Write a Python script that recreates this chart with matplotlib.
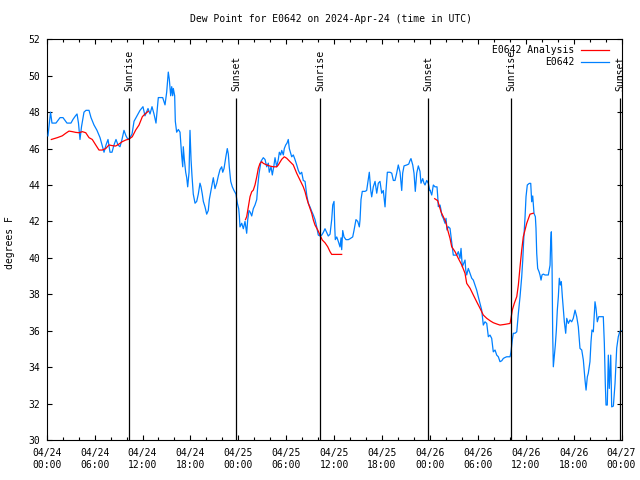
import matplotlib
matplotlib.use("Agg")
import matplotlib.pyplot as plt
from matplotlib.ticker import MultipleLocator

plt.rcParams['font.family'] = ['DejaVu Sans Mono']

# ---- data (hours since 2024-04-24 00:00 UTC, dew point in deg F) ----
obs_hours = [
    0.16, 0.48, 0.66, 1.16, 1.67, 2.04, 2.54, 3.04, 3.29, 3.61, 3.80, 3.98, 4.17, 4.36, 4.67, 4.92,
    5.30, 5.55, 5.92, 6.30, 6.68, 6.93, 7.18, 7.43, 7.68, 7.93, 8.18, 8.43, 8.68, 8.93, 9.18, 9.43,
    9.68, 9.93, 10.18, 10.43, 10.69, 10.94, 11.19, 11.44, 11.69, 12.06,
    12.31, 12.69, 12.94, 13.19, 13.44, 13.69, 13.98, 14.53, 14.82, 15.03, 15.23, 15.36, 15.53, 15.66,
    15.78, 15.86, 16.03, 16.11, 16.28, 16.49, 16.70, 16.91, 17.04, 17.11, 17.24, 17.41, 17.54, 17.66,
    17.83, 17.95, 18.08, 18.20, 18.36, 18.58, 18.79, 18.99, 19.20, 19.33, 19.49, 19.62, 19.83, 20.04,
    20.24, 20.37, 20.54, 20.71, 20.87, 21.08, 21.30, 21.50, 21.71, 21.92, 22.05, 22.21, 22.46, 22.62,
    22.75, 22.87, 23.05, 23.25, 23.46, 23.71, 23.88, 24.05, 24.13,
    24.21, 24.43, 24.63, 24.84, 25.05, 25.18, 25.34, 25.50, 25.68, 25.88, 26.09, 26.31, 26.43, 26.59,
    26.84, 27.13, 27.35, 27.56, 27.76, 27.88, 28.10, 28.26, 28.44, 28.60, 28.81, 29.01, 29.14, 29.31,
    29.44, 29.64, 29.76, 29.94, 30.10, 30.26, 30.39, 30.56, 30.69, 30.89, 31.10, 31.32, 31.52, 31.73,
    31.94, 32.14, 32.36, 32.57, 32.77, 32.98, 33.20, 33.40, 33.61, 33.82, 34.02, 34.24, 34.45, 34.65,
    34.86, 35.07, 35.27, 35.49, 35.70, 35.83, 35.99, 36.08,
    36.15, 36.33, 36.53, 36.74, 36.87, 36.95, 37.08, 37.24, 37.49, 37.78, 37.99, 38.33, 38.49, 38.74,
    38.96, 39.16, 39.25, 39.37, 39.53, 39.87, 40.08, 40.29, 40.41, 40.59, 40.71, 40.91, 41.13, 41.34,
    41.54, 41.75, 41.96, 42.16, 42.38, 42.50, 42.67, 43.00, 43.22, 43.42, 43.63, 43.84, 44.04, 44.26,
    44.47, 44.59, 44.76, 45.10, 45.35, 45.51, 45.63, 45.85, 46.01, 46.17, 46.35, 46.55, 46.76, 46.88,
    47.10, 47.26, 47.39, 47.60, 47.80, 47.98,
    48.01, 48.23, 48.43, 48.64, 48.89, 48.98, 49.05, 49.27, 49.39, 49.48, 49.68, 49.89, 50.02, 50.14,
    50.31, 50.52, 50.73, 50.93, 51.15, 51.36, 51.56, 51.77, 51.90, 52.06, 52.24, 52.40, 52.49, 52.61,
    52.81, 53.03, 53.24, 53.44, 53.65, 53.86, 54.06, 54.28, 54.49, 54.69, 54.90, 55.12, 55.32, 55.53,
    55.74, 55.94, 56.16, 56.37, 56.57, 56.78, 57.00, 57.20, 57.41, 57.62, 57.82, 58.04, 58.16, 58.32,
    58.45, 58.66, 58.88, 59.08, 59.29, 59.50, 59.63, 59.75, 59.88,
    59.92, 60.04, 60.20, 60.45, 60.63, 60.75, 60.88, 61.04, 61.21, 61.29, 61.38, 61.50, 61.67, 61.79,
    61.92, 62.04, 62.21, 62.42, 62.63, 62.83, 63.05, 63.13, 63.21, 63.30, 63.38, 63.46, 63.58, 63.71,
    63.84, 63.96, 64.09, 64.21, 64.34, 64.46, 64.59, 64.71, 64.84, 65.01, 65.14, 65.34, 65.55, 65.76,
    65.96, 66.18, 66.39, 66.59, 66.80, 67.02, 67.22, 67.43, 67.56, 67.72, 67.84, 68.05, 68.18, 68.30,
    68.47, 68.68, 68.81, 68.97, 69.15, 69.31, 69.52, 69.72, 69.85, 69.97, 70.06, 70.22, 70.35, 70.47,
    70.65, 70.77, 70.98, 71.19, 71.40, 71.60, 71.77, 71.95,
]
obs_dewpt = [
    46.7, 48.0, 47.4, 47.4, 47.7, 47.7, 47.4, 47.4, 47.6, 47.8, 47.9, 47.4, 46.5, 47.2, 48.0, 48.1,
    48.1, 47.7, 47.3, 47.0, 46.6, 46.2, 45.8, 46.2, 46.5, 45.8, 45.8, 46.2, 46.5, 46.2, 46.1, 46.5,
    47.0, 46.7, 46.5, 46.6, 46.8, 47.5, 47.7, 47.9, 48.1, 48.3,
    47.8, 48.2, 47.9, 48.3, 47.9, 47.4, 48.8, 48.8, 48.4, 49.1, 50.2, 49.8, 48.9, 49.4,
    48.9, 49.3, 48.9, 47.5, 46.9, 47.05, 46.9, 45.6, 45.0, 46.1, 45.4, 44.7, 44.4, 43.9,
    44.7, 47.0, 45.4, 44.5, 43.5, 43.0, 43.1, 43.5, 44.1, 43.9, 43.5, 43.1, 42.8, 42.4,
    42.6, 43.2, 43.6, 44.0, 44.4, 43.8, 44.1, 44.5, 44.85, 45.0, 44.7, 44.9, 45.6, 46.0,
    45.7, 45.0, 44.2, 43.9, 43.7, 43.5, 43.0, 42.7, 42.3,
    41.7, 41.9, 41.6, 42.0, 41.35, 42.1, 42.6, 42.5, 42.3, 42.7, 42.9, 43.2, 43.9, 44.6,
    45.3, 45.5, 45.4, 45.0, 45.2, 44.7, 45.0, 44.55, 45.0, 45.5, 45.0, 45.4, 45.8, 45.65,
    45.9, 45.65, 46.0, 46.2, 46.3, 46.5, 46.0, 45.75, 45.55, 45.65, 45.4, 45.1, 44.8, 44.6,
    44.7, 44.25, 44.2, 43.45, 43.0, 42.8, 42.55, 42.35, 42.1, 41.7, 41.25, 41.2, 41.25, 41.4,
    41.6, 41.4, 41.2, 41.3, 42.1, 42.9, 43.1, 41.7,
    41.0, 41.15, 40.9, 40.6, 41.1, 40.45, 41.5, 41.15, 41.0, 41.0, 41.05, 41.15, 41.5, 42.1,
    42.0, 41.7, 42.1, 43.2, 43.65, 43.65, 43.7, 44.35, 44.7, 43.7, 43.35, 43.9, 44.2, 43.55,
    44.1, 44.2, 43.55, 43.7, 42.8, 43.7, 44.7, 44.7, 44.65, 44.25, 44.25, 44.65, 45.1, 44.7,
    43.7, 44.65, 45.05, 45.1, 45.15, 45.35, 45.45, 45.1, 44.65, 43.65, 44.65, 45.05, 44.75, 44.1,
    44.35, 44.1, 44.0, 44.25, 44.1, 43.7,
    43.72, 43.45, 44.0, 43.9, 43.9, 43.36, 42.81, 42.9, 42.63, 42.35, 42.17, 41.9, 42.17, 41.53,
    41.71, 41.62, 40.89, 40.15, 40.15, 40.15, 40.34, 39.97, 40.52, 39.51, 39.7, 39.88, 39.33, 39.06,
    39.42, 39.15, 38.88, 38.78, 38.51, 38.23, 37.87, 37.5, 37.13, 36.31, 36.49, 36.4, 35.67, 35.76,
    35.58, 34.84, 34.94, 34.66, 34.57, 34.3, 34.35, 34.48, 34.53, 34.57, 34.57, 34.57, 34.84, 35.49,
    35.86, 35.86, 35.94, 36.95, 37.87, 38.96, 39.88, 40.98, 41.9,
    42.26, 43.36, 44.0, 44.09, 44.09, 43.08, 43.4, 42.44, 42.26, 41.62, 40.25, 39.42, 39.24, 39.06,
    38.78, 39.06, 39.11, 39.06, 39.06, 39.06, 39.6, 40.89, 41.43, 39.6, 35.86, 34.02, 34.57, 35.21,
    36.04, 37.13, 37.87, 38.88, 38.51, 38.69, 37.87, 37.23, 36.49, 35.86, 36.68, 36.4, 36.59, 36.49,
    36.68, 37.13, 36.77, 36.22, 35.03, 34.94, 34.39, 33.29, 32.74, 33.47, 33.66, 34.3, 35.39, 36.04,
    35.94, 37.59, 37.23, 36.49, 36.77, 36.77, 36.77, 36.77, 35.31, 33.11, 31.92, 31.92, 34.66, 32.83,
    34.66, 31.82, 31.86, 33.11, 35.05, 35.67, 35.94, 36.0,
]

nan = float('nan')
analysis_hours = [
    0.58, 1.33, 1.95, 2.38, 2.79, 3.21, 3.63, 4.05, 4.46, 4.89, 5.30, 5.71, 6.14, 6.55, 6.96, 7.39,
    7.80, 8.22, 8.64, 9.06, 9.47, 9.90, 10.31, 10.72, 10.94, 11.15, 11.56, 11.98, 12.31, 12.73,
    12.80,
    24.90, 25.05, 25.26, 25.47, 25.68, 25.88, 26.09, 26.31, 26.51, 26.72, 26.93, 27.13, 27.56, 27.97,
    28.39, 28.81, 29.01, 29.44, 29.76, 30.06, 30.48, 30.89, 31.32, 31.73, 32.14, 32.36, 32.57, 32.77,
    32.98, 33.20, 33.40, 33.61, 33.95, 34.24, 34.52, 34.86, 35.20, 35.49, 35.70, 36.95,
    37.00,
    48.60, 48.98, 49.14, 49.39, 49.68, 49.98, 50.23, 50.52, 50.73, 51.15, 51.56, 51.99, 52.40, 52.61,
    53.03, 53.44, 53.86, 54.28, 54.69, 55.12, 55.53, 55.94, 56.37, 56.78, 57.41, 58.04, 58.16, 58.32,
    58.57, 58.88, 59.08, 59.29, 59.50, 59.70, 60.13, 60.54, 60.95,
]
analysis_dewpt = [
    46.5, 46.6, 46.7, 46.84, 46.96, 46.93, 46.89, 46.87, 46.93, 46.87, 46.6, 46.5, 46.2, 45.92, 45.92, 46.0,
    46.2, 46.16, 46.14, 46.25, 46.38, 46.47, 46.52, 46.65, 46.84, 47.02, 47.29, 47.75, 47.9, 48.05,
    nan,
    42.1, 42.26, 42.81, 43.36, 43.63, 43.72, 44.0, 44.45, 44.92, 45.19, 45.28, 45.19, 45.1, 45.04,
    45.0, 45.0, 45.1, 45.41, 45.55, 45.47, 45.28, 45.1, 44.64, 44.27, 43.9, 43.63, 43.27, 42.99,
    42.72, 42.44, 42.08, 41.8, 41.53, 41.25, 40.98, 40.83, 40.61, 40.34, 40.19, 40.19,
    nan,
    43.25, 43.14, 42.9, 42.53, 42.26, 41.98, 41.53, 41.07, 40.61, 40.34, 39.97, 39.61, 39.15, 38.6,
    38.33, 37.96, 37.59, 37.23, 36.86, 36.68, 36.55, 36.44, 36.37, 36.31, 36.35, 36.4, 36.68, 37.13,
    37.5, 37.87, 38.51, 39.51, 40.43, 41.16, 41.9, 42.4, 42.45,
]

sun_hours = [10.35, 23.75, 34.27, 47.80, 58.20, 71.85]
sun_labels = ["Sunrise", "Sunset", "Sunrise", "Sunset", "Sunrise", "Sunset"]

xtick_hours = list(range(0, 73, 6))
xtick_labels = [
    "04/24\n00:00", "04/24\n06:00", "04/24\n12:00", "04/24\n18:00",
    "04/25\n00:00", "04/25\n06:00", "04/25\n12:00", "04/25\n18:00",
    "04/26\n00:00", "04/26\n06:00", "04/26\n12:00", "04/26\n18:00",
    "04/27\n00:00",
]
ytick_values = list(range(30, 53, 2))

title = "Dew Point for E0642 on 2024-Apr-24 (time in UTC)"
ylabel = "degrees F"
series_names = ["E0642 Analysis", "E0642"]
blue = "#0080ff"
red = "#ff0000"

# ---- figure ----
fig = plt.figure(figsize=(6.4, 4.8), dpi=100)
ax = fig.add_axes([46.7 / 640, 40 / 480, 574.8 / 640, 400.7 / 480])

ax.plot(obs_hours, obs_dewpt, color=blue, lw=0.9, zorder=3)
ax.plot(analysis_hours, analysis_dewpt, color=red, lw=0.9, zorder=4)

ax.vlines(sun_hours, 30, 48.8, color="black", lw=0.9, zorder=5)
for h, lab in zip(sun_hours, sun_labels):
    ax.text(h, 49.15, lab, rotation=90, ha="center", va="bottom",
            fontsize=7, clip_on=False, zorder=6)

ax.set_xlim(0, 72)
ax.set_ylim(30, 52)
ax.set_xticks(xtick_hours)
ax.set_xticklabels(xtick_labels, linespacing=1.25)
ax.xaxis.set_minor_locator(MultipleLocator(2))
ax.set_yticks(ytick_values)
ax.tick_params(which="both", direction="in", top=True, right=True, labelsize=7, width=0.8)
ax.tick_params(which="major", length=3.5)
ax.tick_params(which="minor", length=2)
ax.tick_params(axis="x", pad=6)
ax.tick_params(axis="y", pad=4.5)
for s in ax.spines.values():
    s.set_linewidth(0.8)

# legend (gnuplot style: right-aligned text, sample on the right)
leg_rows = [(0.9733, red), (0.9434, blue)]
for (yy, col), name in zip(leg_rows, series_names):
    ax.text(0.9179, yy, name, transform=ax.transAxes, ha="right", va="center", fontsize=7, zorder=7)
    ax.plot([0.9296, 0.9791], [yy, yy], transform=ax.transAxes, color=col, lw=0.9, clip_on=False, zorder=7)

fig.text(331.5 / 640, 1 - 19 / 480, title, ha="center", va="center", fontsize=7)
fig.text(10 / 640, 1 - 243 / 480, ylabel, rotation=90, ha="center", va="center", fontsize=7)

fig.savefig("out.png", dpi=100)
